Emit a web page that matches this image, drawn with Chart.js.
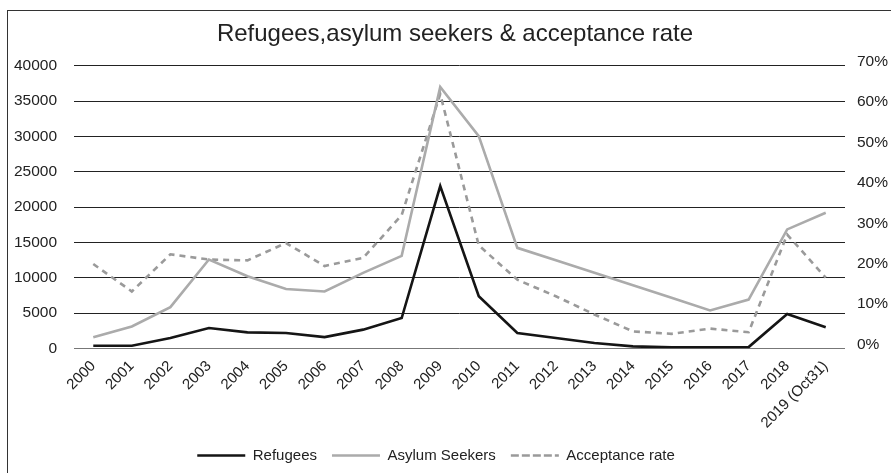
<!DOCTYPE html>
<html>
<head>
<meta charset="utf-8">
<script src="https://cdn.jsdelivr.net/npm/chart.js@4.4.1/dist/chart.umd.min.js"></script>
<style>
  html, body { margin: 0; padding: 0; background: #fff; overflow: hidden; }
  #frame { position: absolute; left: 7px; top: 10px; width: 896px; height: 480px; border: 1px solid #333; }
  #wrap { position: relative; width: 896px; height: 470px; }
</style>
</head>
<body>
<div id="frame"><div id="wrap"><canvas id="chart"></canvas></div></div>
<script>
const years = ['2000', '2001', '2002', '2003', '2004', '2005', '2006', '2007', '2008', '2009',
  '2010', '2011', '2012', '2013', '2014', '2015', '2016', '2017', '2018', '2019 (Oct31)'];

const refugees = [380, 380, 1460, 2880, 2270, 2170, 1600, 2650, 4300, 22980,
  7380, 2170, 1460, 750, 280, 140, 140, 180, 4870, 2980];
const asylumSeekers = [1560, 3100, 5840, 12580, 10210, 8410, 8060, 10680, 13100, 37020,
  30050, 14230, 12460, 10690, 8920, 7150, 5370, 6900, 16840, 19190];
const acceptanceRate = [20.9, 14.1, 23.3, 22.0, 21.8, 26.1, 20.4, 22.4, 33.0, 63.0,
  25.5, 17.0, 12.9, 8.4, 4.2, 3.6, 4.9, 4.0, 28.2, 17.5];

const titleText = 'Refugees,asylum seekers & acceptance rate';
const font = '"Liberation Sans", Arial, Helvetica, sans-serif';

// legend sits a bit left of centre in the original
const legendShift = {
  id: 'legendShift',
  afterLayout(chart) {
    chart.legend.left -= 19;
    chart.legend.right -= 19;
  }
};

const ctx = document.getElementById('chart').getContext('2d');

new Chart(ctx, {
  type: 'line',
  data: {
    labels: years,
    datasets: [{
      label: 'Refugees',
      data: refugees,
      borderColor: '#151515',
      backgroundColor: 'rgba(0,0,0,0)',
      borderWidth: 2.6,
      pointRadius: 0,
      tension: 0,
      yAxisID: 'y'
    }, {
      label: 'Asylum Seekers',
      data: asylumSeekers,
      borderColor: '#ababab',
      backgroundColor: 'rgba(0,0,0,0)',
      borderWidth: 2.6,
      pointRadius: 0,
      tension: 0,
      yAxisID: 'y'
    }, {
      label: 'Acceptance rate',
      data: acceptanceRate,
      borderColor: '#9a9a9a',
      backgroundColor: 'rgba(0,0,0,0)',
      borderWidth: 2.6,
      borderDash: [6, 5],
      pointRadius: 0,
      tension: 0,
      yAxisID: 'y1'
    }]
  },
  options: {
    responsive: true,
    maintainAspectRatio: false,
    animation: false,
    layout: {
      padding: { left: 3, right: 5, top: 0, bottom: 8 }
    },
    plugins: {
      title: {
        display: true,
        text: titleText,
        color: '#222',
        font: { family: font, size: 24, weight: 'normal' },
        padding: { top: 9, bottom: 17 }
      },
      legend: {
        position: 'bottom',
        labels: {
          boxWidth: 48,
          boxHeight: 0,
          color: '#222',
          padding: 15,
          font: { family: font, size: 15 }
        }
      },
      tooltip: { enabled: false }
    },
    scales: {
      x: {
        offset: true,
        grid: { display: false },
        border: { display: false },
        afterFit: scale => {
          scale.paddingLeft = 0;
          scale.paddingRight = 0;
        },
        ticks: {
          color: '#222',
          font: { family: font, size: 15 },
          minRotation: 45,
          maxRotation: 45,
          autoSkip: false,
          padding: 1
        }
      },
      y: {
        position: 'left',
        min: 0,
        max: 40000,
        afterFit: scale => { scale.width = 63; },
        grid: {
          color: c => c.tick && c.tick.value === 0 ? '#777' : '#222',
          lineWidth: 1,
          drawTicks: false
        },
        border: { display: false },
        ticks: {
          stepSize: 5000,
          color: '#222',
          padding: 17,
          font: { family: font, size: 15.5 },
          callback: v => String(v)
        }
      },
      y1: {
        position: 'right',
        min: 0,
        max: 70,
        afterFit: scale => { scale.width = 54; },
        grid: { display: false, drawTicks: false },
        border: { display: false },
        ticks: {
          stepSize: 10,
          color: '#222',
          padding: 12,
          labelOffset: -4,
          font: { family: font, size: 15.5 },
          callback: v => v + '%'
        }
      }
    }
  },
  plugins: [legendShift]
});
</script>
</body>
</html>
